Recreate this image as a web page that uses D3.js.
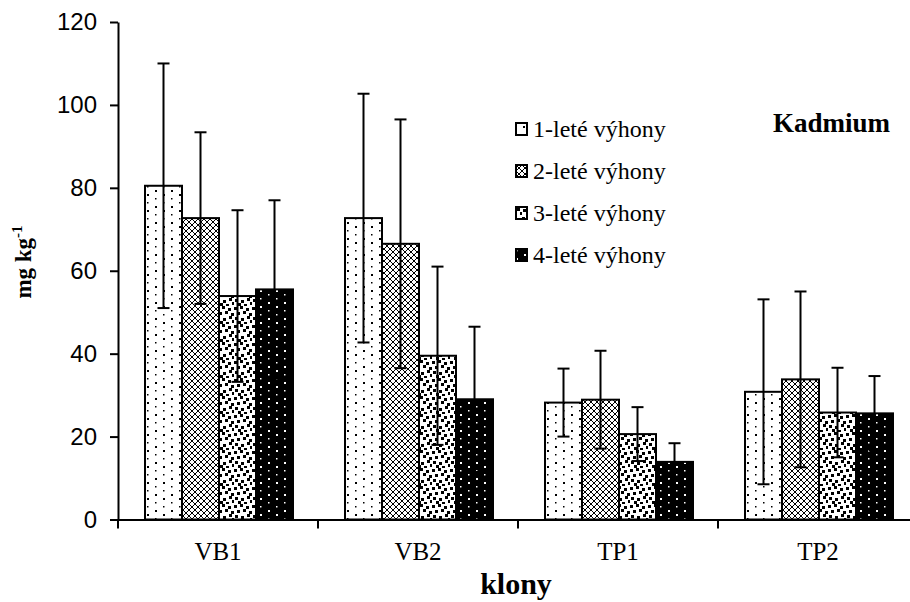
<!DOCTYPE html>
<html><head><meta charset="utf-8">
<script src="https://cdn.jsdelivr.net/npm/d3@7"></script>
<style>
body{margin:0;background:#fff;}
svg{display:block;}
</style></head>
<body>
<svg id="chart" width="910" height="602"></svg>
<script>
const categories = ["VB1", "VB2", "TP1", "TP2"];
const seriesNames = ["1-leté výhony", "2-leté výhony", "3-leté výhony", "4-leté výhony"];
const s1 = [80.5, 72.7, 28.2, 30.8];
const s2 = [72.7, 66.5, 28.9, 33.8];
const s3 = [53.9, 39.5, 20.6, 25.8];
const s4 = [55.5, 29.0, 13.9, 25.6];
const e1 = [29.5, 30.0, 8.2, 22.3];
const e2 = [20.7, 30.0, 11.8, 21.2];
const e3 = [20.7, 21.5, 6.5, 10.8];
const e4 = [21.5, 17.5, 4.5, 9.0];
const yTicks = [0, 20, 40, 60, 80, 100, 120];
const title = "Kadmium";

const values = [s1, s2, s3, s4];
const errors = [e1, e2, e3, e4];
const SERIF = "'Liberation Serif', 'Times New Roman', serif";
const SANS = "'Liberation Sans', Arial, sans-serif";

const svg = d3.select("#chart");
const defs = svg.append("defs");

// pattern 1: white with sparse dots
const p1 = defs.append("pattern").attr("id","pat0").attr("patternUnits","userSpaceOnUse").attr("width",16).attr("height",16);
p1.append("rect").attr("width",16).attr("height",16).attr("fill","#fff");
[[3,3,2],[11,7,1.5],[3,11,1.5],[11,15,2]].forEach(d=>p1.append("rect").attr("x",d[0]).attr("y",d[1]-1).attr("width",d[2]).attr("height",d[2]).attr("fill","#000"));

// pattern 2: lattice
const p2 = defs.append("pattern").attr("id","pat1").attr("patternUnits","userSpaceOnUse").attr("width",6).attr("height",6);
p2.append("rect").attr("width",6).attr("height",6).attr("fill","#fff");
p2.append("path").attr("d","M0,3 L3,0 L6,3 L3,6 Z").attr("fill","none").attr("stroke","#000").attr("stroke-width",1);

// pattern 3: scattered black squares
const p3 = defs.append("pattern").attr("id","pat2").attr("patternUnits","userSpaceOnUse").attr("width",18).attr("height",18);
p3.append("rect").attr("width",18).attr("height",18).attr("fill","#fff");
[[0,1],[6,0],[12,2],[3,6],[9,5],[15,7],[1,11],[7,12],[13,10],[4,15],[10,16],[16,14]].forEach(d=>p3.append("rect").attr("x",d[0]).attr("y",d[1]).attr("width",3).attr("height",3).attr("fill","#000"));

// pattern 4: black with white dots
const p4 = defs.append("pattern").attr("id","pat3").attr("patternUnits","userSpaceOnUse").attr("width",16).attr("height",16);
p4.append("rect").attr("width",16).attr("height",16).attr("fill","#000");
[[4,3,2],[12,7,1.5],[4,11,1.5],[12,15,2]].forEach(d=>p4.append("rect").attr("x",d[0]).attr("y",d[1]-1).attr("width",d[2]).attr("height",d[2]).attr("fill","#fff"));

const x = d3.scaleBand().domain(categories).range([118, 918]).padding(0);
const xi = d3.scaleBand().domain(d3.range(4)).range([27, 175]).padding(0);
const y = d3.scaleLinear().domain([0, 120]).range([519.5, 22]);

// bars
const g = svg.append("g");
values.forEach((vals, si) => {
  g.selectAll(null).data(categories).enter().append("rect")
    .attr("x", c => x(c) + xi(si))
    .attr("y", (c, i) => y(vals[i]))
    .attr("width", xi.bandwidth())
    .attr("height", (c, i) => y(0) - y(vals[i]))
    .attr("fill", `url(#pat${si})`)
    .attr("stroke", "#000").attr("stroke-width", 2);
});
// error bars
values.forEach((vals, si) => {
  categories.forEach((c, i) => {
    const cx = x(c) + xi(si) + xi.bandwidth() / 2;
    const hi = y(vals[i] + errors[si][i]), lo = y(vals[i] - errors[si][i]);
    g.append("line").attr("x1", cx).attr("x2", cx).attr("y1", hi).attr("y2", lo).attr("stroke", "#000").attr("stroke-width", 2);
    [hi, lo].forEach(yy => g.append("line").attr("x1", cx - 6).attr("x2", cx + 6).attr("y1", yy).attr("y2", yy).attr("stroke", "#000").attr("stroke-width", 2));
  });
});

// axes
const yAxis = d3.axisLeft(y).tickValues(yTicks).tickSize(8).tickPadding(13).tickSizeOuter(0);
const ga = svg.append("g").attr("transform", "translate(118,0)").call(yAxis);
ga.attr("font-family", SANS).attr("font-size", 24);
ga.selectAll("text").attr("fill", "#000");
ga.selectAll("line,path").attr("stroke", "#000").attr("stroke-width", 2);

const xAxis = d3.axisBottom(x).tickSize(0).tickPadding(23).tickSizeOuter(0);
const gx = svg.append("g").attr("transform", "translate(0,519.5)").call(xAxis);
gx.attr("font-family", SERIF).attr("font-size", 25);
gx.selectAll("text").attr("fill", "#000");
gx.select("path").attr("stroke", "#000").attr("stroke-width", 2);
gx.selectAll(null).data(categories).enter().append("line")
  .attr("x1", c => x(c)).attr("x2", c => x(c)).attr("y1", 0).attr("y2", 9)
  .attr("stroke", "#000").attr("stroke-width", 2);

// axis titles
svg.append("text").attr("x", 516).attr("y", 594).attr("text-anchor", "middle")
  .attr("font-family", SERIF).attr("font-weight", "bold").attr("font-size", 30).text("klony");
const yt = svg.append("text").attr("transform", "translate(31,262) rotate(-90)").attr("text-anchor", "middle")
  .attr("font-family", SERIF).attr("font-weight", "bold").attr("font-size", 23);
yt.append("tspan").text("mg kg");
yt.append("tspan").attr("dy", -9).attr("font-size", 15).text("-1");

// title
svg.append("text").attr("x", 773).attr("y", 132)
  .attr("font-family", SERIF).attr("font-weight", "bold").attr("font-size", 27).text(title);

// legend
const lg = svg.append("g");
seriesNames.forEach((n, i) => {
  const ly = 123 + i * 42;
  lg.append("rect").attr("x", 516).attr("y", ly).attr("width", 11).attr("height", 12)
    .attr("fill", `url(#pat${i})`).attr("stroke", "#000").attr("stroke-width", 2);
  lg.append("text").attr("x", 533).attr("y", ly + 14)
    .attr("font-family", SERIF).attr("font-size", 24).text(n);
});
</script>
</body></html>
